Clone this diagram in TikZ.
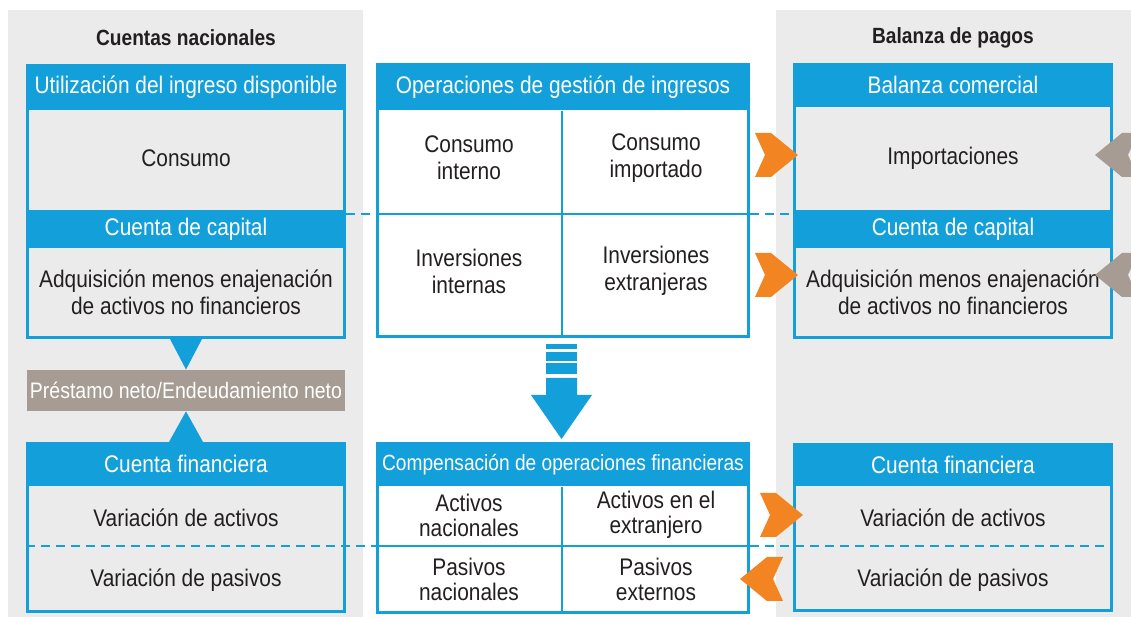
\documentclass[tikz,border=0pt]{standalone}
\usepackage{fontspec}
\setmainfont{Liberation Sans}[FakeStretch=0.87]
\usepackage{tikz}
\usepackage{xcolor}
\definecolor{azul}{HTML}{139FDA}
\definecolor{naranja}{HTML}{F28522}
\definecolor{taupe}{HTML}{A69C94}
\definecolor{gris}{HTML}{EBEBEB}
\definecolor{tinta}{HTML}{231F20}

\begin{document}
\begin{tikzpicture}[x = .5pt, y = -.5pt,
    caja/.style = {draw = azul, line width = 1.5pt, inner sep = 0},
    cab/.style = {fill = azul, text = white, inner sep = 0, font = \fontsize{12}{14}\selectfont},
    txt/.style = {text = tinta, align = center, inner sep = 0, font = \fontsize{12}{13.5}\selectfont},
    titulo/.style = {text = tinta, font = \fontsize{11}{13}\selectfont\bfseries},
    guion/.style = {azul, line width = 1pt, dash pattern = on 4.5pt off 3pt},
    division/.style = {azul, line width = 1pt}]
\useasboundingbox (0,0) rectangle (1131,619);
\clip (0,0) rectangle (1131,619);

% Fonds gris
\fill[gris] (8,10) rectangle (363,617);
\fill[gris] (776,10) rectangle (1140,617);
\node[titulo] (tNac) at (186,38) {Cuentas nacionales};
\node[titulo] (tBal) at (953,38) {Balanza de pagos};

% Colonne de gauche
\node[caja, fill = gris, minimum width = 158.5pt, minimum height = 136pt] (uso) at (186,201.5) {};
\node[cab, minimum width = 160pt, minimum height = 23pt, anchor = north] (cabUso) at (uso.north) {Utilización del ingreso disponible};
\node[cab, minimum width = 160pt, minimum height = 19pt] (capN) at (186,229) {Cuenta de capital};
\node[txt] (consN) at (186,158) {Consumo};
\node[txt] (adqN) at (186,292) {Adquisición menos enajenación\\de activos no financieros};

\node[fill = taupe, text = white, inner sep = 0, minimum width = 159pt, minimum height = 20.5pt,
    font = \fontsize{11.2}{13}\selectfont] (prest) at (186,390.5) {Préstamo neto/Endeudamiento neto};

\node[caja, fill = gris, minimum width = 158.5pt, minimum height = 84pt] (finN) at (186,527.5) {};
\node[cab, minimum width = 160pt, minimum height = 22pt, anchor = north] (cabFinN) at (finN.north) {Cuenta financiera};
\node[txt] (actN) at (186,518) {Variación de activos};
\node[txt] (pasN) at (186,580) {Variación de pasivos};

% Triangles autour du solde
\fill[azul] (uso.south) ++(-16,0) -- ++(32,0) -- (prest.north) -- cycle;
\fill[azul] (cabFinN.north) ++(-17,0) -- ++(34,0) -- (prest.south) -- cycle;

% Colonne du milieu
\node[caja, fill = white, minimum width = 185.5pt, minimum height = 136pt] (ope) at (563,200.5) {};
\node[cab, minimum width = 187pt, minimum height = 23.5pt, anchor = north] (cabOpe) at (ope.north) {Operaciones de gestión de ingresos};
\draw[division] (cabOpe.south -| 562,0) -- (ope.south -| 562,0);
\draw[division] (ope.west |- 0,214) -- (ope.east |- 0,214);
\foreach \x/\y/\nom/\texte in {469/158/cInt/{Consumo\\interno}, 656/158/cImp/{Consumo\\importado},
                               469/271/iInt/{Inversiones\\internas}, 656/271/iExt/{Inversiones\\extranjeras}}{
    \node[txt] (\nom) at (\x,\y) {\texte};
}

\node[caja, fill = white, minimum width = 185.5pt, minimum height = 84.5pt] (comp) at (563,528) {};
\node[cab, minimum width = 187pt, minimum height = 22pt, anchor = north,
    font = \fontsize{11}{13}\selectfont] (cabComp) at (comp.north) {Compensación de operaciones financieras};
\draw[division] (cabComp.south -| 562,0) -- (comp.south -| 562,0);
\draw[division] (comp.west |- 0,546) -- (comp.east |- 0,546);
\foreach \x/\y/\nom/\texte in {469/515/aNac/{Activos\\nacionales}, 656/515/aExt/{Activos en el\\extranjero},
                               469/579/pNac/{Pasivos\\nacionales}, 656/579/pExt/{Pasivos\\externos}}{
    \node[txt, font = \fontsize{12}{12.5}\selectfont] (\nom) at (\x,\y) {\texte};
}

% Flèche vers le bas
\foreach \a/\b in {344/349, 352/361, 363/374}{
    \fill[azul] (546,\a) rectangle (577,\b);
}
\fill[azul] (546,378) -- (577,378) -- (577,395) -- (592,395) -- (561.5,439) -- (531,395) -- (546,395) -- cycle;

% Colonne de droite
\node[caja, fill = gris, minimum width = 158.5pt, minimum height = 136.5pt] (bal) at (953,201) {};
\node[cab, minimum width = 160pt, minimum height = 22pt, anchor = north] (cabBal) at (bal.north) {Balanza comercial};
\node[cab, minimum width = 160pt, minimum height = 19pt] (capE) at (953,229) {Cuenta de capital};
\node[txt] (impE) at (953,158) {Importaciones};
\node[txt] (adqE) at (953,292) {Adquisición menos enajenación\\de activos no financieros};

\node[caja, fill = gris, minimum width = 158.5pt, minimum height = 83pt] (finE) at (953,527.5) {};
\node[cab, minimum width = 160pt, minimum height = 21.5pt, anchor = north] (cabFinE) at (finE.north) {Cuenta financiera};
\node[txt] (actE) at (953,518) {Variación de activos};
\node[txt] (pasE) at (953,580) {Variación de pasivos};

% Pointillés entre les comptes
\draw[guion] (uso.east |- 0,214) -- (ope.west |- 0,214);
\draw[guion] (ope.east |- 0,214) -- (bal.west |- 0,214);
\draw[guion] (finN.west |- 0,546) -- (comp.west |- 0,546);
\draw[guion] (comp.east |- 0,546) -- (finE.east |- 0,546);

% Chevrons (sens 1 : vers la droite, -1 : vers la gauche)
\foreach \x/\y/\s/\c in {798/155/1/naranja, 798/275/1/naranja, 803/515/1/naranja,
                         740/579/-1/naranja, 1095/155/-1/taupe, 1095/275/-1/taupe}{
    \fill[\c] (\x,\y) -- ++(-27*\s,-22) -- ++(-16*\s,0) -- ++(10*\s,22)
        -- ++(-10*\s,22) -- ++(16*\s,0) -- cycle;
}
\end{tikzpicture}
\end{document}
